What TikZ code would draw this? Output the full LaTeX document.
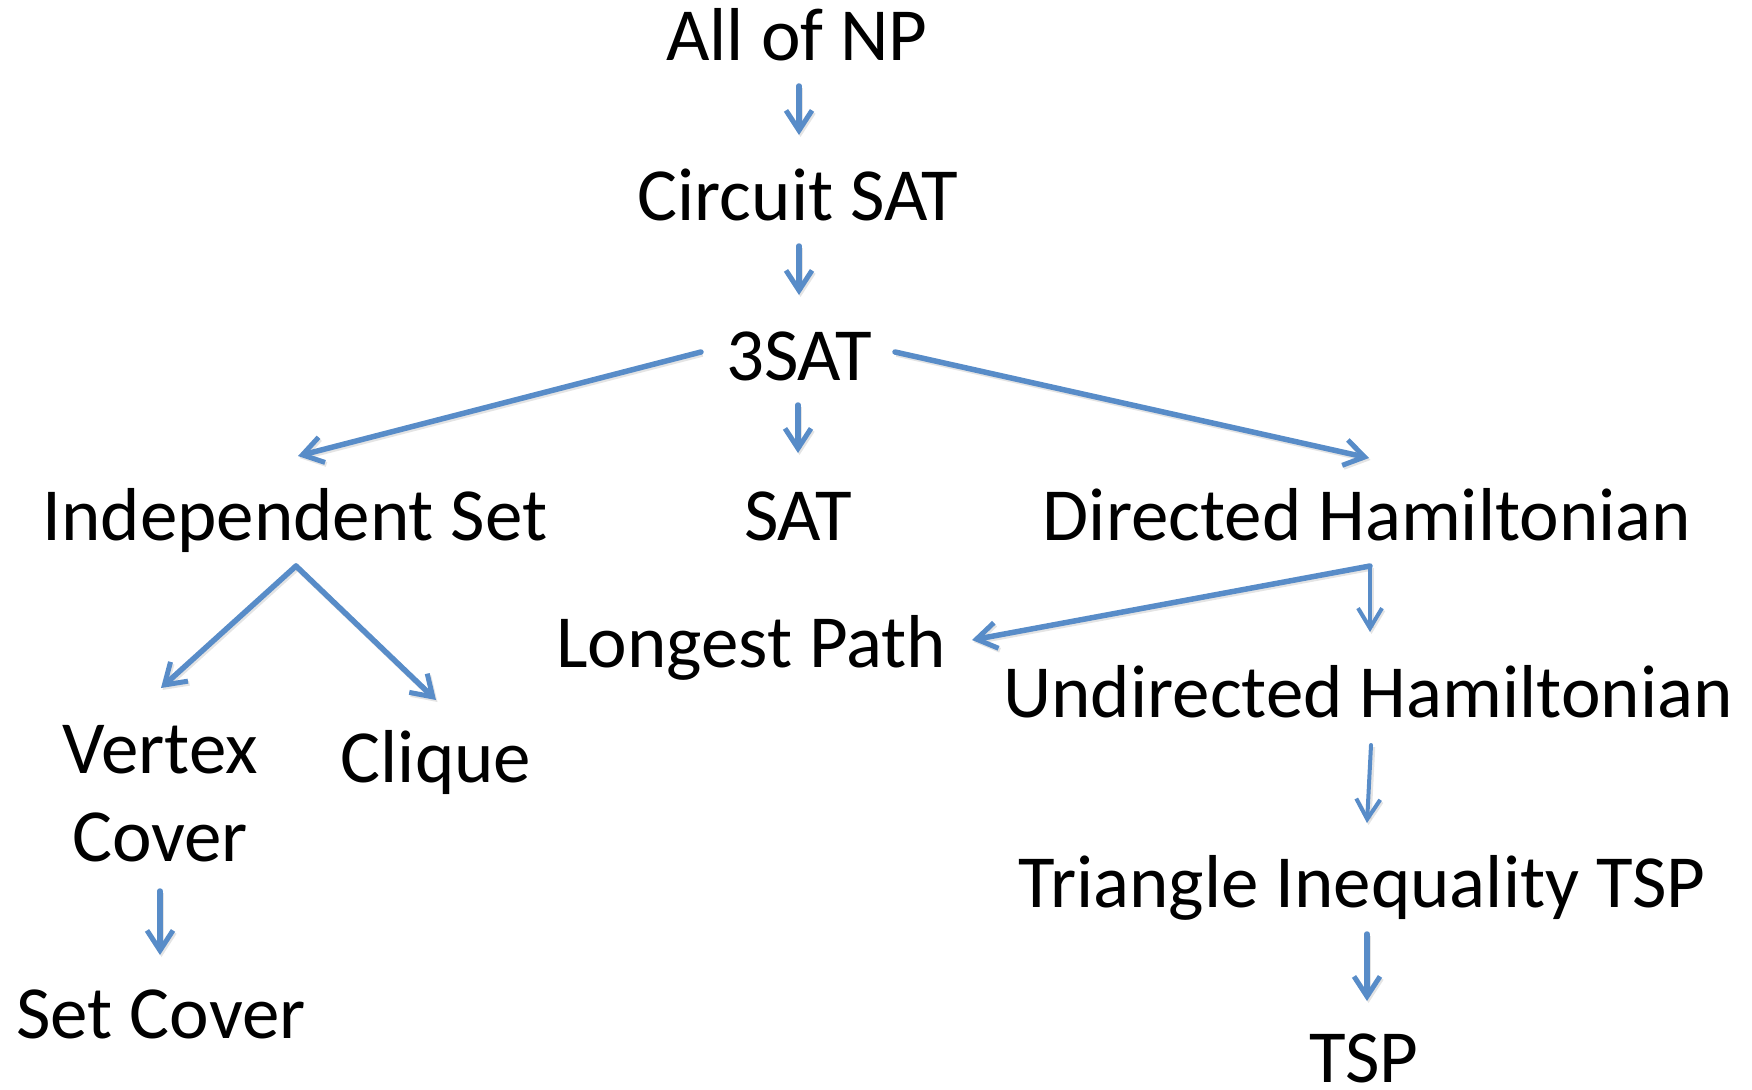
\documentclass[tikz,border=0pt]{standalone}
\usepackage{fontspec}
\setmainfont{Carlito}
\usetikzlibrary{arrows.meta,calc}
\definecolor{linkblue}{RGB}{88,140,200}
\tikzset{
  lbl/.style={anchor=base, inner sep=0pt, font=\fontsize{75}{88}\selectfont},
  arr/.style={draw=linkblue, line width=5.5pt, line cap=round,
    -{Straight Barb[length=20pt,width=26pt,line width=5pt]},
    preaction={draw=black!30, opacity=0.35, line width=5.5pt,
      transform canvas={shift={(1.5pt,-2pt)}}}},
  thinarr/.style={arr, line width=4pt,
    -{Straight Barb[length=20pt,width=24pt,line width=4pt]}}
}
\begin{document}
\begin{tikzpicture}[x=1pt,y=-1pt]
\useasboundingbox (0,0) rectangle (1752,1089);

% problems
\node[lbl] (np)   at (797,61)   {All of NP};
\node[lbl] (csat) at (798,220)  {Circuit SAT};
\node[lbl] (tsat) at (799,380)  {3SAT};
\node[lbl] (is)   at (295,540)  {Independent Set};
\node[lbl] (sat)  at (798,540)  {SAT};
\node[lbl] (dh)   at (1367,540) {Directed Hamiltonian};
\node[lbl] (lp)   at (751,667)  {Longest Path};
\node[lbl] (uh)   at (1368,717) {Undirected Hamiltonian};
\node[lbl, align=center] (vc) at (160,861) {Vertex\\Cover};
\node[lbl] (clq)  at (436,782)  {Clique};
\node[lbl] (sc)   at (161,1038) {Set Cover};
\node[lbl] (tit)  at (1362,907) {Triangle Inequality TSP};
\node[lbl] (tsp)  at (1364,1082) {TSP};

% reductions
\draw[arr] ($(np.base)+(2,25)$)    -- ($(csat.base)+(1,-85)$);
\draw[arr] ($(csat.base)+(1,26)$)  -- ($(tsat.base)+(0,-85)$);
\draw[arr] ($(tsat.base)+(-98,-28)$) -- ($(is.base)+(3,-84)$);
\draw[arr] ($(tsat.base)+(-1,25)$) -- ($(sat.base)+(0,-87)$);
\draw[arr] ($(tsat.base)+(96,-28)$) -- ($(dh.base)+(2,-82)$);
\draw[arr] ($(is.base)+(1,26)$)    -- ($(vc.base)+(1,-173)$);
\draw[arr] ($(is.base)+(1,26)$)    -- ($(clq.base)+(0,-82)$);
\draw[arr] ($(dh.base)+(3,26)$)    -- ($(lp.base)+(221,-27)$);
\draw[thinarr] ($(dh.base)+(3,26)$) -- ($(uh.base)+(2,-85)$);
\draw[thinarr] ($(uh.base)+(3,28)$) -- ($(tit.base)+(5,-84)$);
\draw[arr] ($(vc.base)+(0,30)$)    -- ($(sc.base)+(-1,-83)$);
\draw[arr] ($(tit.base)+(5,27)$)   -- ($(tsp.base)+(3,-81)$);
\end{tikzpicture}
\end{document}
